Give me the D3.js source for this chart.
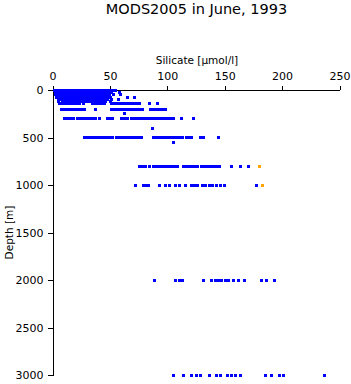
<!DOCTYPE html>
<html>
<head>
<meta charset="utf-8">
<script src="https://cdn.jsdelivr.net/npm/d3@7"></script>
<style>
  html, body { margin: 0; padding: 0; background: #fff; }
  svg { display: block; }
  text { font-family: "DejaVu Sans", sans-serif; fill: #000; }
</style>
</head>
<body>
<svg id="chart" width="351" height="384"></svg>
<script>
// ---- data ----
const title = "MODS2005 in June, 1993";
const xLabel = "Silicate [µmol/l]";
const yLabel = "Depth [m]";
const xTicks = [0, 50, 100, 150, 200, 250];
const yTicks = [0, 500, 1000, 1500, 2000, 2500, 3000];

const depthLevels = [0, 10, 30, 50, 75, 100, 125, 140, 200, 250, 300, 400, 500, 550, 800, 1000, 2000, 3000];
const si_0 = [2,4.5,7,9.5,12,14.5,17,19.5,22,24.5,27,29.5,32,34.5,37,39.5,42,44.5,47,49.5,52];
const si_10 = [1.5,3.8,6.3,8.7,11.2,13.6,16,18.5,21,23.3,25.8,28.2,30.7,33,35.6,38,40.4,43,45.4,47.8,50.5,55.3];
const si_30 = [2.5,5,7.4,10,12.3,14.8,17.3,19.8,22.2,24.7,27.3,29.8,32.2,34.6,37.2,39.6,42.1,44.6,47,49.6,51.8,58.7];
const si_50 = [2.8,5.3,7.8,10.3,12.8,15.2,17.7,20.1,22.6,25,27.5,30,32.4,35,37.4,39.9,42.3,44.8,47.3,50,53.5,58.9];
const si_75 = [3.4,6,8.5,11,13.5,16,18.4,20.9,23.3,25.8,28.3,30.7,33.2,35.7,38.1,40.6,43,45.5,48,50.6,65.5,71.7];
const si_100 = [5.5,8,10.5,13,15.4,17.9,20.3,22.8,25.3,27.8,30.2,32.7,35.2,37.6,40.1,42.5,45,47.5,51.3,57.5];
const si_125 = [5.5,9,11.5,14,16.5,19,21.4,24,26.4,29,31.4,34,36.4,39,41.4,44,46.5,50.4];
const si_140 = [6.1,8.5,11,13.4,16,18.4,20.8,23.3,26.6,35.2,37.7,40.1,42.7,45.5,51.3,53.8,56.3,58.8,61.5,64.4,66.8,69.4,71.8,74.2,76,84.8,91.8];
const si_200 = [7.6,10,12.5,15,17.5,20,22.5,25,28,37.3,51.6,54,56.5,58.5,61,63.5,66,68.5,71,73.5,76,78.7,85.7,88.2,90.7,93.2,95.6,98];
const si_250 = [62.9];
const si_300 = [10.5,13.1,15.7,18.4,21.9,24.5,27.1,29.7,32.3,35,37.6,41.1,48.1,50.3,52.4,60.3,62.9,65.6,69,70.8,73.4,76,78.7,81.3,83.9,86.5,89.2,91.8,94.4,97,99.7,102.3,104,105.8,112.5,122.6];
const si_400 = [87.2];
const si_500 = [28,30,32.3,34.7,36.7,39.6,41,43.3,45.5,48.3,50.7,52.7,55.7,58.1,60.3,63,65.6,68.2,70.8,73.4,75.8,77.5,88.3,90.9,93.5,96.2,98.8,101.4,104,106.6,109.3,111,113.6,116.3,118.9,121.2,128.5,131.4,144.5];
const si_550 = [105.8];
const si_800 = [76,78.7,81.3,84.2,87.7,90.9,93.5,96.2,98.8,101.4,103.8,106,109,113.9,116.3,118.9,121.5,124.1,126.7,129.4,132,134.6,137.2,139.9,142.5,145.1,156.2,163.5,170.7];
const si_1000 = [71.9,78.9,81.3,83.3,92.9,98.8,102.3,107.5,111,115.6,121.2,123.7,126.1,130.5,133.5,136.4,139.2,142.5,146,149.7,177.4];
const si_2000 = [88.5,107.5,111,113.6,131.4,138.7,141.6,144.4,147.2,150.3,153.2,157.3,161.7,167,181.8,186.2,193.4];
const si_3000 = [105.8,113.9,121.2,125,128.5,136.6,142.5,146.6,152.1,155.6,159,163.5,185.9,190.6,197.3,201.3,236.6];

const flaggedDepth = [800, 1000];
const flaggedSilicate = [180.3, 183.3];

// build point table
const levelValues = [si_0, si_10, si_30, si_50, si_75, si_100, si_125, si_140, si_200, si_250,
                     si_300, si_400, si_500, si_550, si_800, si_1000, si_2000, si_3000];
const bluePoints = [];
depthLevels.forEach((d, i) => levelValues[i].forEach(s => bluePoints.push({depth: d, si: s})));
const orangePoints = flaggedDepth.map((d, i) => ({depth: d, si: flaggedSilicate[i]}));

// ---- drawing ----
const svg = d3.select("#chart");
svg.append("rect").attr("width", 351).attr("height", 384).attr("fill", "#fff");

const x = d3.scaleLinear().domain([0, 250]).range([52.5, 339.5]);
const y = d3.scaleLinear().domain([0, 3000]).range([90, 375]);

const fmt = d3.format("d");
const xAxis = d3.axisTop(x).tickValues(xTicks).tickFormat(fmt).tickSize(4).tickSizeOuter(0).tickPadding(6);
const yAxis = d3.axisLeft(y).tickValues(yTicks).tickFormat(fmt).tickSize(5).tickSizeOuter(0).tickPadding(4);

const gx = svg.append("g").attr("transform", "translate(0,90)").call(xAxis);
const gy = svg.append("g").attr("transform", "translate(52.5,0)").call(yAxis);
[gx, gy].forEach(g => {
  g.selectAll("path, line").attr("stroke", "#000").attr("shape-rendering", "crispEdges");
  g.selectAll("text").attr("font-size", 11).attr("font-family", "DejaVu Sans").attr("fill", "#000");
});

const mk = 3;
svg.append("g").selectAll("rect").data(bluePoints).join("rect")
  .attr("x", d => Math.round(x(d.si) - mk / 2))
  .attr("y", d => Math.round(y(d.depth) - mk / 2))
  .attr("width", mk).attr("height", mk)
  .attr("fill", "#0000ff").attr("shape-rendering", "crispEdges");

svg.append("g").selectAll("rect").data(orangePoints).join("rect")
  .attr("x", d => Math.round(x(d.si) - mk / 2))
  .attr("y", d => Math.round(y(d.depth) - mk / 2))
  .attr("width", mk).attr("height", mk)
  .attr("fill", "#ffa500").attr("shape-rendering", "crispEdges");

svg.append("text").attr("x", 196.5).attr("y", 13.5).attr("text-anchor", "middle")
  .attr("font-size", 14.5).text(title);
svg.append("text").attr("x", 197).attr("y", 64).attr("text-anchor", "middle")
  .attr("font-size", 10.5).text(xLabel);
svg.append("text").attr("transform", "translate(13,232.5) rotate(-90)").attr("text-anchor", "middle")
  .attr("font-size", 10.5).text(yLabel);
</script>
</body>
</html>
